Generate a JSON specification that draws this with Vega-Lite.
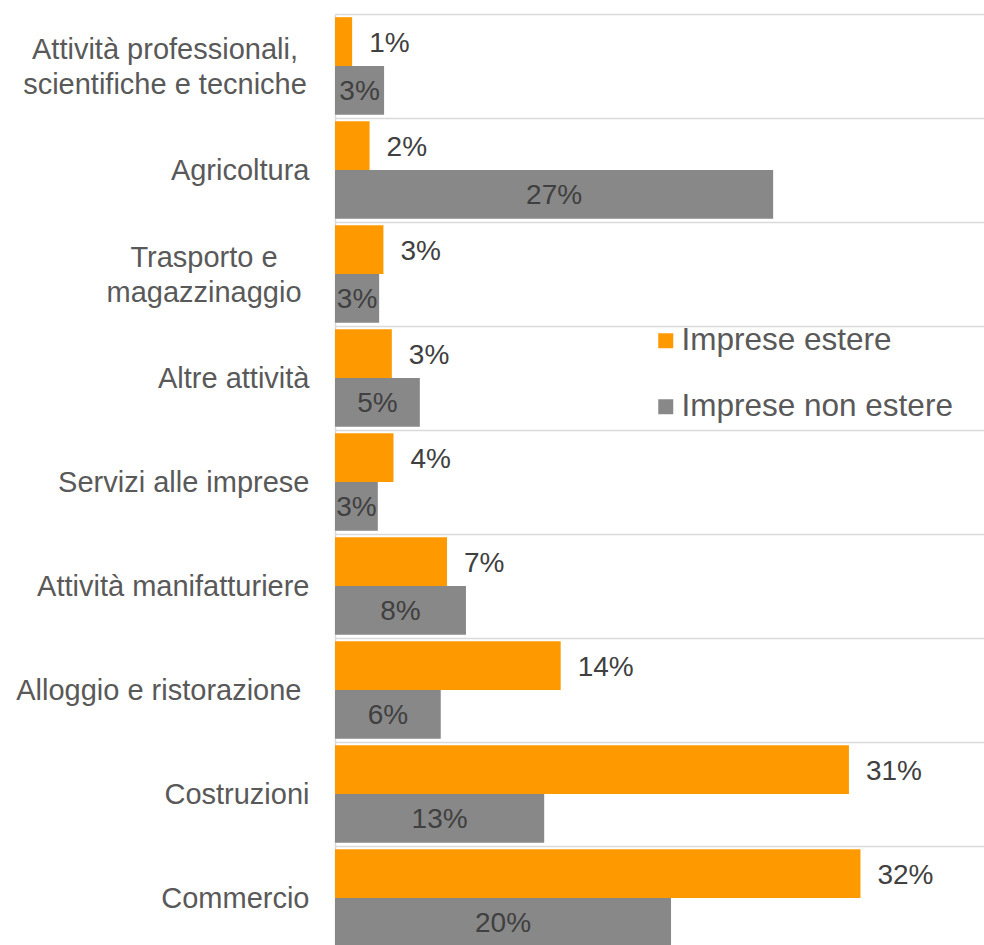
{
  "$schema": "https://vega.github.io/schema/vega-lite/v6.json",
  "width": 649,
  "height": 931,
  "autosize": {"type": "none"},
  "padding": {"left": 335, "top": 14, "right": 0, "bottom": 0},
  "background": "white",
  "config": {"view": {"stroke": null}, "font": "Liberation Sans"},
  "data": {
    "values": [
      {"settore": "Attività professionali, scientifiche e tecniche", "gruppo": "Imprese estere", "v": 0.0104},
      {"settore": "Attività professionali, scientifiche e tecniche", "gruppo": "Imprese non estere", "v": 0.0298},
      {"settore": "Agricoltura", "gruppo": "Imprese estere", "v": 0.021},
      {"settore": "Agricoltura", "gruppo": "Imprese non estere", "v": 0.266},
      {"settore": "Trasporto e magazzinaggio", "gruppo": "Imprese estere", "v": 0.0294},
      {"settore": "Trasporto e magazzinaggio", "gruppo": "Imprese non estere", "v": 0.0268},
      {"settore": "Altre attività", "gruppo": "Imprese estere", "v": 0.0345},
      {"settore": "Altre attività", "gruppo": "Imprese non estere", "v": 0.0515},
      {"settore": "Servizi alle imprese", "gruppo": "Imprese estere", "v": 0.0355},
      {"settore": "Servizi alle imprese", "gruppo": "Imprese non estere", "v": 0.026},
      {"settore": "Attività manifatturiere", "gruppo": "Imprese estere", "v": 0.068},
      {"settore": "Attività manifatturiere", "gruppo": "Imprese non estere", "v": 0.0795},
      {"settore": "Alloggio e ristorazione", "gruppo": "Imprese estere", "v": 0.137},
      {"settore": "Alloggio e ristorazione", "gruppo": "Imprese non estere", "v": 0.0642},
      {"settore": "Costruzioni", "gruppo": "Imprese estere", "v": 0.312},
      {"settore": "Costruzioni", "gruppo": "Imprese non estere", "v": 0.127},
      {"settore": "Commercio", "gruppo": "Imprese estere", "v": 0.319},
      {"settore": "Commercio", "gruppo": "Imprese non estere", "v": 0.204}
    ]
  },
  "encoding": {
    "y": {
      "field": "settore",
      "type": "nominal",
      "sort": ["Attività professionali, scientifiche e tecniche", "Agricoltura", "Trasporto e magazzinaggio", "Altre attività", "Servizi alle imprese", "Attività manifatturiere", "Alloggio e ristorazione", "Costruzioni", "Commercio"],
      "scale": {"range": [0, 936], "paddingInner": 0, "paddingOuter": 0},
      "axis": {
        "title": null,
        "grid": true,
        "tickBand": "extent",
        "gridColor": "#d9d9d9",
        "gridWidth": 1.5,
        "domain": true,
        "domainColor": "#d9d9d9",
        "domainWidth": 1.5,
        "ticks": false,
        "tickSize": 0,
        "labelFontSize": 29,
        "labelFont": "Liberation Sans",
        "labelColor": "#595959",
        "labelLimit": 500,
        "labelLineHeight": 35,
        "labelBaseline": "middle",
        "labelAlign": {
          "condition": {"test": "datum.value === 'Attività professionali, scientifiche e tecniche' || datum.value === 'Trasporto e magazzinaggio'", "value": "center"},
          "value": "right"
        },
        "labelPadding": {
          "condition": [
            {"test": "datum.value === 'Attività professionali, scientifiche e tecniche'", "value": 170.5},
            {"test": "datum.value === 'Trasporto e magazzinaggio'", "value": 131.5},
            {"test": "datum.value === 'Alloggio e ristorazione'", "value": 34}
          ],
          "value": 26
        },
        "labelOffset": {
          "condition": {"test": "datum.value === 'Attività professionali, scientifiche e tecniche' || datum.value === 'Trasporto e magazzinaggio'", "value": -17},
          "value": 0
        },
        "labelExpr": "datum.value === 'Attività professionali, scientifiche e tecniche' ? ['Attività professionali,', 'scientifiche e tecniche'] : datum.value === 'Trasporto e magazzinaggio' ? ['Trasporto e', 'magazzinaggio'] : datum.value"
      }
    },
    "yOffset": {
      "field": "gruppo",
      "type": "nominal",
      "sort": ["Imprese estere", "Imprese non estere"],
      "scale": {"paddingInner": 0, "paddingOuter": 0.065}
    }
  },
  "layer": [
    {
      "mark": {"type": "bar"},
      "encoding": {
        "x": {"field": "v", "type": "quantitative", "scale": {"domain": [0, 0.394], "nice": false, "zero": true}, "axis": null},
        "color": {
          "field": "gruppo",
          "type": "nominal",
          "scale": {"domain": ["Imprese estere", "Imprese non estere"], "range": ["#ff9900", "#888888"]},
          "legend": {
            "orient": "none",
            "legendX": 315,
            "legendY": 311,
            "title": null,
            "symbolType": "square",
            "symbolSize": 225,
            "symbolStrokeWidth": 0,
            "labelFontSize": 31.5,
            "labelFont": "Liberation Sans",
            "labelColor": "#595959",
            "labelOffset": 0,
            "rowPadding": 33,
            "labelLimit": 500
          }
        }
      }
    },
    {
      "transform": [{"filter": "datum.gruppo === 'Imprese estere'"}],
      "mark": {"type": "text", "align": "left", "baseline": "middle", "dx": 17, "dy": 2, "fontSize": 28, "color": "#404040", "font": "Liberation Sans"},
      "encoding": {
        "x": {"field": "v", "type": "quantitative", "scale": {"domain": [0, 0.394], "nice": false}, "axis": null},
        "text": {"field": "v", "type": "quantitative", "format": ".0%"}
      }
    },
    {
      "transform": [{"filter": "datum.gruppo === 'Imprese non estere'"}, {"calculate": "datum.v / 2", "as": "meta"}],
      "mark": {"type": "text", "align": "center", "baseline": "middle", "dy": 2, "fontSize": 28, "color": "#404040", "font": "Liberation Sans"},
      "encoding": {
        "x": {"field": "meta", "type": "quantitative", "scale": {"domain": [0, 0.394], "nice": false}, "axis": null},
        "text": {"field": "v", "type": "quantitative", "format": ".0%"}
      }
    }
  ]
}
